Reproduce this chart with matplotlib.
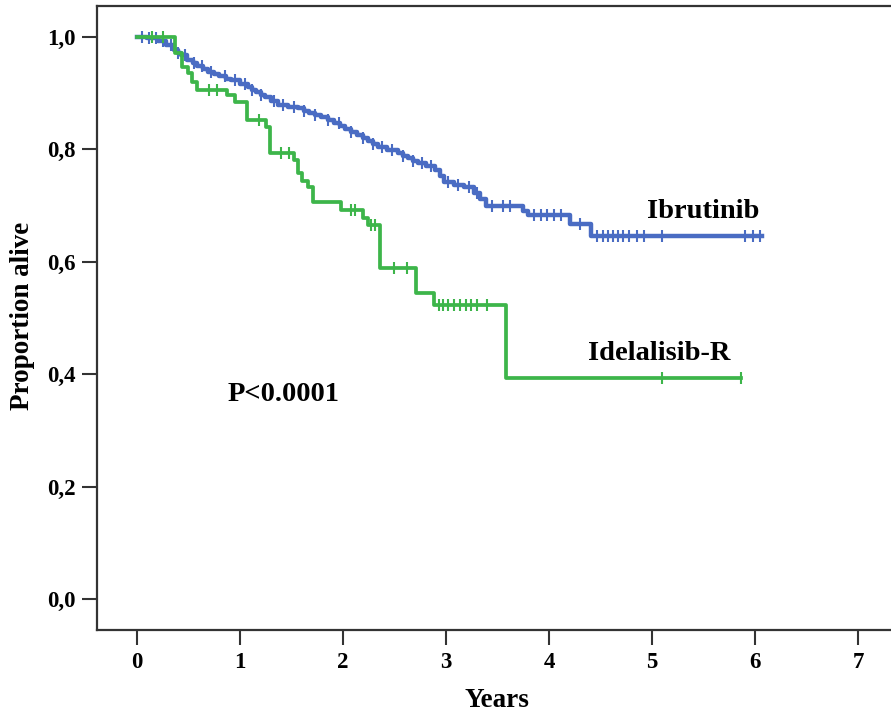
import numpy as np
import matplotlib.pyplot as plt

# Ibrutinib: step times (years) and survival after each step
ibr_times = [0.10, 0.20, 0.28, 0.36, 0.40, 0.43, 0.49, 0.54, 0.58, 0.64, 0.69,
             0.75, 0.80, 0.86, 0.91, 1.00, 1.08, 1.12, 1.16, 1.20, 1.24, 1.30,
             1.37, 1.47, 1.56, 1.62, 1.67, 1.73, 1.79, 1.85, 1.91, 1.97, 2.02,
             2.08, 2.14, 2.19, 2.24, 2.29, 2.34, 2.43, 2.53, 2.58, 2.63, 2.68,
             2.73, 2.81, 2.89, 2.94, 2.98, 3.08, 3.17, 3.27, 3.33, 3.39, 3.75,
             3.80, 4.20, 4.41]
ibr_surv = [0.998, 0.993, 0.985, 0.977, 0.972, 0.967, 0.959, 0.954, 0.949,
            0.943, 0.938, 0.934, 0.930, 0.926, 0.923, 0.917, 0.911, 0.906,
            0.902, 0.897, 0.893, 0.886, 0.879, 0.876, 0.873, 0.869, 0.865,
            0.861, 0.858, 0.853, 0.847, 0.842, 0.837, 0.831, 0.826, 0.820,
            0.815, 0.810, 0.804, 0.798, 0.793, 0.789, 0.785, 0.780, 0.776,
            0.770, 0.763, 0.752, 0.742, 0.737, 0.733, 0.722, 0.712, 0.700,
            0.690, 0.683, 0.667, 0.645]
ibr_end = 6.07
ibr_censor = [0.05, 0.12, 0.18, 0.25, 0.33, 0.40, 0.47, 0.55, 0.63, 0.72,
              0.85, 0.95, 1.05, 1.12, 1.20, 1.33, 1.42, 1.52, 1.62, 1.73,
              1.85, 1.96, 2.08, 2.19, 2.29, 2.38, 2.48, 2.58, 2.68, 2.77,
              2.85, 3.02, 3.12, 3.22, 3.30, 3.45, 3.55, 3.62, 3.85, 3.92,
              3.98, 4.05, 4.12, 4.30, 4.47, 4.52, 4.57, 4.62, 4.67, 4.72,
              4.78, 4.85, 4.92, 5.10, 5.90, 5.98, 6.05]

# Idelalisib-R
ide_times = [0.37, 0.44, 0.50, 0.53, 0.58, 0.87, 0.95, 1.07, 1.25, 1.29,
             1.52, 1.56, 1.60, 1.66, 1.71, 1.98, 2.19, 2.24, 2.36, 2.71,
             2.88, 3.58]
ide_surv = [0.971, 0.947, 0.936, 0.920, 0.906, 0.897, 0.885, 0.852, 0.840,
            0.793, 0.781, 0.758, 0.744, 0.733, 0.707, 0.692, 0.678, 0.665,
            0.589, 0.544, 0.523, 0.393]
ide_end = 5.86
ide_censor = [0.15, 0.25, 0.70, 0.78, 1.18, 1.40, 1.48, 2.08, 2.12, 2.27,
              2.31, 2.50, 2.62, 2.93, 2.97, 3.02, 3.08, 3.14, 3.19, 3.24,
              3.30, 3.40, 5.10, 5.86]

x_ticks = [0, 1, 2, 3, 4, 5, 6, 7]
y_ticks = [0.0, 0.2, 0.4, 0.6, 0.8, 1.0]
y_tick_labels = ["0,0", "0,2", "0,4", "0,6", "0,8", "1,0"]


def km_xy(times, surv, end):
    x = np.concatenate([[0.0], times, [end]])
    y = np.concatenate([[1.0], surv, [surv[-1]]])
    return x, y


def surv_at(times, surv, t):
    idx = np.searchsorted(times, t, side="right") - 1
    s = np.array(surv)
    return np.where(idx < 0, 1.0, s[np.clip(idx, 0, None)])


plt.rcParams["font.family"] = ["Liberation Serif", "DejaVu Serif"]
plt.rcParams["font.weight"] = "bold"

fig = plt.figure(figsize=(8.91, 7.17), dpi=100)
ax = fig.add_axes([97 / 891, 87 / 717, 1 - 97 / 891, 624 / 717])

blue = "#4a6cc3"
green = "#3db54a"

x, y = km_xy(ibr_times, ibr_surv, ibr_end)
ax.plot(x, y, drawstyle="steps-post", color=blue, lw=3.2)
ax.plot(ibr_censor, surv_at(ibr_times, ibr_surv, ibr_censor), ls="none",
        marker="|", ms=8, mew=1.5, color=blue)

x, y = km_xy(ide_times, ide_surv, ide_end)
ax.plot(x, y, drawstyle="steps-post", color=green, lw=2.7)
ax.plot(ide_censor, surv_at(ide_times, ide_surv, ide_censor), ls="none",
        marker="|", ms=8, mew=1.5, color=green)

ax.text(4.95, 0.678, "Ibrutinib", fontsize=20.5, fontweight="bold")
ax.text(4.38, 0.425, "Idelalisib-R", fontsize=20.5, fontweight="bold")
ax.text(0.88, 0.352, "P<0.0001", fontsize=20.5, fontweight="bold")

ax.set_xlim(-0.388, 7.32)
ax.set_ylim(-0.055, 1.055)
ax.set_xticks(x_ticks)
ax.set_yticks(y_ticks)
ax.set_yticklabels(y_tick_labels)
ax.tick_params(direction="out", length=10.5, width=1.5, color="#333333",
               labelsize=16.5, pad=5)
for lab in ax.get_xticklabels() + ax.get_yticklabels():
    lab.set_fontweight("bold")

for side in ["left", "bottom", "top"]:
    ax.spines[side].set_linewidth(1.6)
    ax.spines[side].set_color("#333333")
ax.spines["right"].set_visible(False)

ax.set_xlabel("Years", fontsize=19.5, fontweight="bold", va="baseline")
ax.xaxis.set_label_coords(0.504, -0.1234)
ax.set_ylabel("Proportion alive", fontsize=19.5, fontweight="bold", va="center")
ax.yaxis.set_label_coords(-0.0932, 0.503)

fig.savefig("out.png", dpi=100)
